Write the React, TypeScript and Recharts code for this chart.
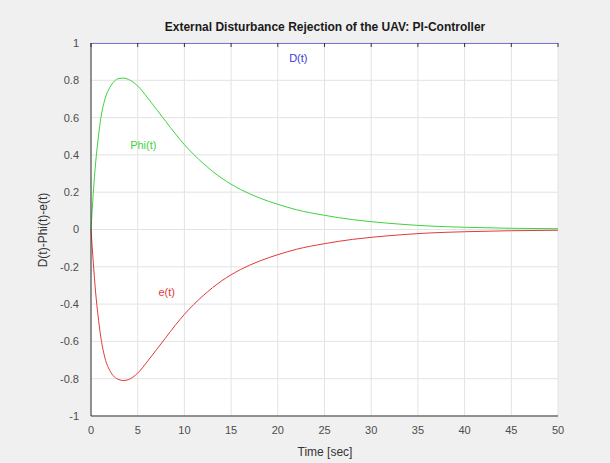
import React from "react";
import {
  LineChart,
  Line,
  XAxis,
  YAxis,
  CartesianGrid,
  ReferenceDot,
} from "recharts";

const times = [0, 0.25, 0.5, 0.75, 1, 1.5, 2, 2.5, 3, 3.5, 4, 5, 6, 7, 8, 9, 10, 12, 14, 16, 18, 20, 22, 25, 28, 30, 33, 35, 38, 40, 45, 50];
const phiValues = [0, 0.2, 0.36, 0.48, 0.58, 0.7, 0.76, 0.795, 0.81, 0.812, 0.805, 0.77, 0.71, 0.645, 0.58, 0.515, 0.455, 0.355, 0.275, 0.215, 0.17, 0.135, 0.106, 0.076, 0.053, 0.042, 0.029, 0.022, 0.015, 0.012, 0.0065, 0.004];
const errValues = [0, -0.18, -0.34, -0.46, -0.56, -0.69, -0.755, -0.79, -0.805, -0.81, -0.805, -0.77, -0.71, -0.645, -0.58, -0.515, -0.455, -0.355, -0.275, -0.215, -0.17, -0.135, -0.106, -0.076, -0.053, -0.042, -0.029, -0.022, -0.015, -0.012, -0.0065, -0.004];
const disturbance = times.map(() => 1);

const xTicks = [0, 5, 10, 15, 20, 25, 30, 35, 40, 45, 50];
const yTicks = [-1, -0.8, -0.6, -0.4, -0.2, 0, 0.2, 0.4, 0.6, 0.8, 1];

const data = times.map((t, i) => ({
  t,
  d: disturbance[i],
  phi: phiValues[i],
  e: errValues[i],
}));

const font = "'Liberation Sans', Arial, sans-serif";
const tickStyle = { fontSize: 11, fill: "#4d4d4d", fontFamily: font };
const blank = () => "";

export default function App() {
  return (
    <div
      style={{
        position: "fixed",
        left: 0,
        top: 0,
        width: 610,
        height: 463,
        background: "#f0f0f0",
      }}
    >
      <LineChart
        width={610}
        height={463}
        data={data}
        margin={{ top: 43, right: 52, bottom: 17, left: 31 }}
      >
        <text
          x={325}
          y={31}
          textAnchor="middle"
          style={{ fontFamily: font, fontSize: 12, fontWeight: "bold", fill: "#1a1a1a" }}
        >
          External Disturbance Rejection of the UAV: PI-Controller
        </text>
        <text
          x={325}
          y={456}
          textAnchor="middle"
          style={{ fontFamily: font, fontSize: 12, fill: "#333" }}
        >
          Time [sec]
        </text>
        <text
          x={47}
          y={230}
          textAnchor="middle"
          transform="rotate(-90 47 230)"
          style={{ fontFamily: font, fontSize: 12, fill: "#333" }}
        >
          D(t)-Phi(t)-e(t)
        </text>
        <CartesianGrid fill="#ffffff" stroke="#e3e3e3" vertical horizontal />
        <XAxis
          dataKey="t"
          type="number"
          domain={[0, 50]}
          ticks={xTicks}
          tick={tickStyle}
          tickLine={false}
          axisLine={{ stroke: "#333" }}
          height={30}
          tickMargin={4}
        />
        <XAxis
          xAxisId="top"
          dataKey="t"
          type="number"
          orientation="top"
          domain={[0, 50]}
          ticks={xTicks}
          mirror
          tickFormatter={blank}
          tickSize={4}
          tickLine={{ stroke: "#333" }}
          axisLine={false}
        />
        <XAxis
          xAxisId="in"
          dataKey="t"
          type="number"
          orientation="bottom"
          domain={[0, 50]}
          ticks={xTicks}
          mirror
          tickFormatter={blank}
          tickSize={4}
          tickLine={{ stroke: "#333" }}
          axisLine={false}
          height={0}
        />
        <YAxis
          type="number"
          domain={[-1, 1]}
          ticks={yTicks}
          tick={tickStyle}
          tickLine={false}
          axisLine={{ stroke: "#333" }}
          width={60}
          tickMargin={6}
          allowDataOverflow
        />
        <YAxis
          yAxisId="in"
          type="number"
          domain={[-1, 1]}
          ticks={yTicks}
          mirror
          tickFormatter={blank}
          tickSize={4}
          tickLine={{ stroke: "#333" }}
          axisLine={false}
          width={0}
        />
        <YAxis
          yAxisId="right"
          orientation="right"
          type="number"
          domain={[-1, 1]}
          ticks={yTicks}
          mirror
          tickFormatter={blank}
          tickSize={4}
          tickLine={{ stroke: "#333" }}
          axisLine={{ stroke: "#333" }}
          width={0}
        />
        <Line
          dataKey="phi"
          type="monotone"
          stroke="#3fd13f"
          strokeWidth={1}
          dot={false}
          isAnimationActive={false}
        />
        <Line
          dataKey="e"
          type="monotone"
          stroke="#e03a3a"
          strokeWidth={1}
          dot={false}
          isAnimationActive={false}
        />
        <Line
          dataKey="d"
          type="linear"
          stroke="#4a4ad0"
          strokeWidth={1.5}
          dot={false}
          isAnimationActive={false}
        />
        <ReferenceDot
          x={22.2}
          y={0.92}
          r={0}
          label={{ value: "D(t)", fill: "#3b3bd6", fontSize: 11, fontFamily: font }}
        />
        <ReferenceDot
          x={5.6}
          y={0.45}
          r={0}
          label={{ value: "Phi(t)", fill: "#3fd13f", fontSize: 11, fontFamily: font }}
        />
        <ReferenceDot
          x={8.1}
          y={-0.335}
          r={0}
          label={{ value: "e(t)", fill: "#e03a3a", fontSize: 11, fontFamily: font }}
        />
      </LineChart>
    </div>
  );
}
